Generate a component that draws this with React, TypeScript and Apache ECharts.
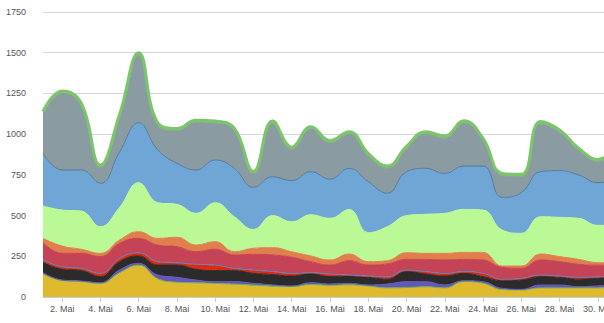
import React, { useEffect, useRef } from "react";
import * as echarts from "echarts";

const days = Array.from({ length: 31 }, (_, i) => `${i + 1}. Mai`);

const yellow = [139, 98, 92, 80, 145, 192, 109, 88, 84, 80, 74, 66, 60, 58, 72, 68, 72, 64, 53, 55, 60, 53, 92, 82, 43, 40, 53, 53, 53, 53, 55];
const green = [4, 3, 3, 3, 4, 4, 3, 3, 3, 3, 5, 8, 8, 6, 5, 4, 3, 3, 3, 3, 3, 3, 3, 3, 3, 3, 3, 3, 3, 3, 3];
const purple = [6, 3, 3, 5, 17, 11, 23, 30, 17, 11, 15, 10, 6, 4, 11, 8, 9, 7, 24, 36, 31, 18, 5, 9, 7, 4, 18, 18, 8, 12, 12];
const black = [64, 66, 64, 37, 51, 45, 61, 75, 66, 68, 68, 61, 64, 61, 54, 45, 45, 47, 29, 62, 47, 55, 45, 31, 47, 57, 51, 47, 45, 47, 48];
const red = [11, 13, 11, 17, 17, 17, 18, 12, 28, 31, 11, 18, 15, 13, 5, 13, 3, 5, 13, 7, 12, 13, 8, 17, 6, 8, 7, 5, 9, 7, 7];
const thinBlue = [3, 3, 3, 3, 3, 3, 3, 3, 3, 3, 3, 3, 3, 3, 3, 3, 3, 3, 3, 3, 3, 3, 3, 3, 3, 3, 3, 3, 3, 3, 3];
const crimson = [107, 82, 92, 103, 93, 88, 102, 98, 77, 97, 82, 96, 102, 99, 67, 55, 88, 67, 78, 65, 75, 82, 75, 82, 73, 61, 92, 88, 80, 70, 67];
const orange = [26, 45, 25, 20, 20, 41, 41, 58, 41, 47, 20, 37, 45, 34, 35, 31, 41, 21, 20, 41, 37, 41, 43, 47, 8, 14, 37, 31, 30, 16, 15];
const lightGreen = [199, 221, 235, 164, 200, 301, 219, 202, 195, 239, 215, 116, 197, 184, 253, 256, 274, 178, 209, 228, 240, 246, 264, 260, 221, 201, 229, 241, 252, 229, 230];
const blue = [323, 246, 252, 266, 340, 368, 324, 252, 266, 262, 297, 258, 239, 252, 265, 241, 252, 313, 205, 270, 282, 245, 266, 270, 201, 250, 277, 287, 266, 262, 278];
const grey = [243, 470, 395, 97, 215, 415, 152, 199, 290, 224, 231, 82, 326, 191, 261, 221, 210, 159, 152, 140, 210, 215, 264, 155, 132, 97, 292, 234, 149, 128, 187];
const topGreen = [15, 15, 15, 15, 15, 15, 15, 15, 15, 15, 15, 15, 15, 15, 15, 15, 15, 15, 15, 15, 15, 15, 15, 15, 15, 15, 15, 15, 15, 15, 15];

const yTicks = [0, 250, 500, 750, 1000, 1250, 1500, 1750];

const layers: { name: string; data: number[]; color: string; line: string; lw: number }[] = [
  { name: "A", data: yellow, color: "#E0BA2E", line: "#E0BA2E", lw: 1 },
  { name: "B", data: green, color: "#6DAF4E", line: "#6DAF4E", lw: 1 },
  { name: "C", data: purple, color: "#6656BC", line: "#6656BC", lw: 1 },
  { name: "D", data: black, color: "#2B2B2B", line: "#2B2B2B", lw: 1 },
  { name: "E", data: red, color: "#DE2A10", line: "#DE2A10", lw: 1 },
  { name: "F", data: thinBlue, color: "#5A86C0", line: "#5A86C0", lw: 1 },
  { name: "G", data: crimson, color: "#C44356", line: "#C44356", lw: 1 },
  { name: "H", data: orange, color: "#E07E4C", line: "#E07E4C", lw: 1 },
  { name: "I", data: lightGreen, color: "#BBF997", line: "#BBF997", lw: 1 },
  { name: "J", data: blue, color: "#6FA6D6", line: "#5478A0", lw: 1 },
  { name: "K", data: grey, color: "#8A9BA1", line: "#8A9BA1", lw: 1 },
  { name: "L", data: topGreen, color: "#7CC66A", line: "#7CC66A", lw: 3 },
];

export default function App() {
  const ref = useRef<HTMLDivElement>(null);
  useEffect(() => {
    if (!ref.current) return;
    const chart = echarts.init(ref.current, undefined, { renderer: "svg" });
    const showEven = (idx: number) => idx % 2 === 1;
    chart.setOption({
      animation: false,
      grid: { left: 43, right: 23, top: 12, bottom: 26 },
      xAxis: {
        type: "category",
        data: days,
        boundaryGap: false,
        axisLine: { lineStyle: { color: "#C0D0E0" } },
        axisTick: { length: 5, interval: showEven, lineStyle: { color: "#C0D0E0" } },
        axisLabel: {
          interval: showEven,
          margin: 7,
          fontSize: 9,
          fontFamily: "Liberation Sans, Arial, sans-serif",
          color: "#555",
        },
        splitLine: { show: false },
      },
      yAxis: {
        type: "value",
        min: yTicks[0],
        max: yTicks[yTicks.length - 1],
        interval: 250,
        axisLine: { show: false },
        axisTick: { show: false },
        axisLabel: {
          margin: 17,
          fontSize: 9,
          fontFamily: "Liberation Sans, Arial, sans-serif",
          color: "#555",
          padding: [6, 0, 0, 0],
          formatter: (v: number) => String(v),
        },
        splitLine: { lineStyle: { color: "#D4D4E4", width: 1 } },
      },
      series: layers.map((l) => ({
        name: l.name,
        type: "line",
        stack: "total",
        smooth: 0.45,
        symbol: "none",
        data: l.data,
        lineStyle: { color: l.line, width: l.lw },
        itemStyle: { color: l.color },
        areaStyle: { color: l.color, opacity: 1 },
      })),
    });
    return () => chart.dispose();
  }, []);
  return (
    <div style={{ position: "absolute", left: 0, top: 0, width: 604, height: 323, overflow: "hidden" }}>
      <div ref={ref} style={{ width: 640, height: 323 }} />
    </div>
  );
}
